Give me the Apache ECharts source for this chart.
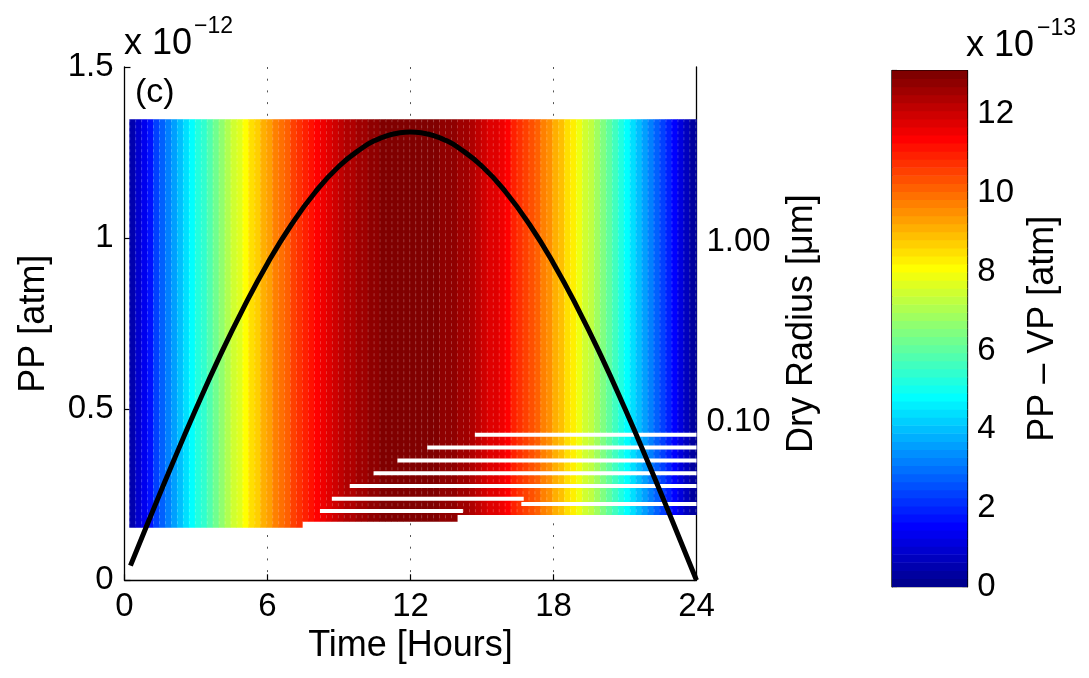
<!DOCTYPE html>
<html><head><meta charset="utf-8">
<script src="https://cdn.jsdelivr.net/npm/echarts@6/dist/echarts.min.js"></script>
<style>html,body{margin:0;padding:0;background:#fff}#c{width:1089px;height:678px}</style>
</head><body><div id="c"></div><script>
// ---------------- data ----------------
const timeTicks = [0, 6, 12, 18, 24];
// Black curve: PP (x 1e-12 atm) vs time (hours)
const ppTimes  = [0.25, 1, 2, 3, 4, 5, 6, 7, 8, 9, 10, 10.5, 11, 11.5, 12, 12.5, 13, 13.5, 14, 15, 16, 17, 18, 19, 20, 21, 22, 23, 24];
const ppValues = [0.043, 0.171, 0.339, 0.501, 0.655, 0.797, 0.926, 1.039, 1.134, 1.210, 1.265, 1.285, 1.299, 1.307, 1.310,
                  1.307, 1.299, 1.285, 1.265, 1.210, 1.134, 1.039, 0.926, 0.797, 0.655, 0.501, 0.339, 0.171, 0.0];
// Heat map: one column per 0.25 h starting at 0.2 h; PP - VP (x 1e-13 atm)
const cellStartTime = 0.2;
const cellStep = 0.25;
const cellValues = [
  0.56, 0.99, 1.41, 1.84, 2.26, 2.68, 3.10, 3.52, 3.93, 4.33, 4.74, 5.13, 5.52, 5.91, 6.29, 6.66,
  7.03, 7.38, 7.73, 8.08, 8.41, 8.73, 9.05, 9.35, 9.65, 9.94, 10.21, 10.47, 10.73, 10.96, 11.19, 11.41,
  11.61, 11.81, 11.99, 12.15, 12.30, 12.45, 12.57, 12.69, 12.79, 12.87, 12.95, 13.00, 13.05, 13.08, 13.10, 13.10,
  13.09, 13.06, 13.02, 12.97, 12.90, 12.82, 12.73, 12.62, 12.50, 12.36, 12.21, 12.05, 11.88, 11.69, 11.49, 11.28,
  11.05, 10.82, 10.57, 10.31, 10.04, 9.77, 9.48, 9.17, 8.86, 8.54, 8.21, 7.87, 7.53, 7.17, 6.81, 6.44,
  6.06, 5.68, 5.29, 4.90, 4.49, 4.09, 3.68, 3.27, 2.85, 2.43, 2.01, 1.58, 1.16, 0.73, 0.30, 0.04
];
const timeEnd = 24;
// Dry radius extent of the heat map (um)
const radiusTop = 4.83;
const floorTimes = [0.2, 7.45, 13.95];
const floorRadii = [0.0256, 0.02765, 0.0301];
// White (missing-data) rows: start time, end time, radius (um)
const whiteStart  = [14.7, 12.7, 11.45, 10.45, 9.45, 8.7, 16.65, 8.2];
const whiteEnd    = [24, 24, 24, 24, 24, 16.75, 24, 14.2];
const whiteRadius = [0.0844, 0.0715, 0.0605, 0.0514, 0.0437, 0.0371, 0.0347, 0.0317];
// Axes
const ppMin = 0, ppMax = 1.5, ppStep = 0.5;
const radiusMin = 0.01303, radiusMax = 9.44;
const radiusTicks = [0.1, 1];
const colorMax = 13.11;
const colorTicks = [0, 2, 4, 6, 8, 10, 12];
const colorLevels = 64;

// ---------------- helpers ----------------
const FONT = '"Liberation Sans", Arial, Helvetica, sans-serif';
function clamp01(a) { return Math.max(0, Math.min(1, a)); }
function jet(idx) { // MATLAB jet(64), idx = 1..64
  const x = idx / colorLevels;
  const r = clamp01(Math.min(4 * x - 1.5, -4 * x + 4.5));
  const g = clamp01(Math.min(4 * x - 0.5, -4 * x + 3.5));
  const b = clamp01(Math.min(4 * x + 0.5, -4 * x + 2.5));
  return 'rgb(' + Math.round(r * 255) + ',' + Math.round(g * 255) + ',' + Math.round(b * 255) + ')';
}
function levelOf(v) {
  return Math.min(colorLevels, Math.max(1, Math.floor(v / colorMax * colorLevels) + 1));
}
function floorAt(t) {
  let r = floorRadii[0];
  for (let j = 0; j < floorTimes.length; j++) if (t >= floorTimes[j] - 1e-9) r = floorRadii[j];
  return r;
}

// heat map cells
const cellData = cellValues.map((v, i) => {
  const t0 = cellStartTime + i * cellStep;
  const t1 = Math.min(timeEnd, t0 + cellStep);
  return [t0, t1, floorAt(t0), v];
});
const whiteData = whiteStart.map((s, i) => [s, whiteEnd[i], whiteRadius[i]]);
const lineData = ppTimes.map((t, i) => [t, ppValues[i]]);
const colorbarData = [];
for (let i = 1; i <= colorLevels; i++) {
  colorbarData.push([(i - 1) * colorMax / colorLevels, i * colorMax / colorLevels, i]);
}

const axisLineStyle = { color: '#000', width: 1.3 };
const tickStyle = { color: '#000', width: 1.2 };
const labelStyle = { color: '#000', fontSize: 33, fontFamily: FONT };
const nameStyle = { color: '#000', fontSize: 36, fontFamily: FONT };

const option = {
  animation: false,
  backgroundColor: '#fff',
  grid: [
    { left: 124.5, top: 67, width: 572, height: 513.3, containLabel: false },
    { left: 892, top: 70.7, width: 75.3, height: 516, containLabel: false,
      show: true, borderColor: '#000', borderWidth: 1.3, backgroundColor: 'transparent' }
  ],
  xAxis: [
    { gridIndex: 0, type: 'value', min: timeTicks[0], max: timeTicks[timeTicks.length - 1], interval: 6,
      axisLine: { show: true, onZero: false, lineStyle: axisLineStyle },
      axisTick: { show: true, inside: true, length: 6, lineStyle: tickStyle },
      axisLabel: Object.assign({ margin: 10 }, labelStyle),
      splitLine: { show: true, lineStyle: { color: '#555', width: 1, type: [2, 9.7] } },
      name: 'Time [Hours]', nameLocation: 'middle', nameGap: 46, nameTextStyle: nameStyle },
    { gridIndex: 1, type: 'value', min: 0, max: 1, show: false }
  ],
  yAxis: [
    { gridIndex: 0, type: 'value', position: 'left', min: ppMin, max: ppMax, interval: ppStep,
      axisLine: { show: true, onZero: false, lineStyle: axisLineStyle },
      axisTick: { show: true, inside: true, length: 6, lineStyle: tickStyle },
      axisLabel: Object.assign({ margin: 11 }, labelStyle),
      splitLine: { show: false },
      name: 'PP [atm]', nameLocation: 'middle', nameRotate: 90, nameGap: 72, nameTextStyle: nameStyle },
    { gridIndex: 0, type: 'log', logBase: 10, position: 'right', min: radiusMin, max: radiusMax,
      axisLine: { show: true, onZero: false, lineStyle: axisLineStyle },
      axisTick: { show: true, inside: true, length: 6, lineStyle: tickStyle, customValues: radiusTicks },
      axisLabel: Object.assign({ margin: 10, customValues: radiusTicks,
        formatter: v => Number(v).toFixed(2) }, labelStyle),
      splitLine: { show: false },
      name: 'Dry Radius [\u03bcm]', nameLocation: 'middle', nameRotate: 90, nameGap: 88, nameTextStyle: nameStyle },
    { gridIndex: 1, type: 'value', position: 'right', min: 0, max: colorMax, interval: 2,
      axisLine: { show: true, onZero: false, lineStyle: axisLineStyle },
      axisTick: { show: true, inside: true, length: 5, lineStyle: tickStyle },
      axisLabel: Object.assign({ margin: 10, showMaxLabel: false,
        formatter: v => (colorTicks.indexOf(v) >= 0 ? String(v) : '') }, labelStyle),
      splitLine: { show: false },
      name: 'PP \u2013 VP [atm]', nameLocation: 'middle', nameRotate: 90, nameGap: 58, nameTextStyle: nameStyle },
    { gridIndex: 1, type: 'value', position: 'left', min: 0, max: colorMax, interval: 2,
      axisLine: { show: true, onZero: false, lineStyle: axisLineStyle },
      axisTick: { show: true, inside: true, length: 5, lineStyle: tickStyle },
      axisLabel: { show: false }, splitLine: { show: false } }
  ],
  series: [
    { type: 'custom', name: 'heat', xAxisIndex: 0, yAxisIndex: 1, clip: true, z: 2,
      encode: { x: [0, 1], y: 2 },
      data: cellData,
      renderItem: function (params, api) {
        const t0 = api.value(0), t1 = api.value(1), rb = api.value(2), v = api.value(3);
        const p0 = api.coord([t0, radiusTop]);
        const p1 = api.coord([t1, rb]);
        const col = jet(levelOf(v));
        return { type: 'group', children: [
          { type: 'rect', shape: { x: p0[0], y: p0[1], width: p1[0] - p0[0] + 0.6, height: p1[1] - p0[1] },
            style: { fill: col, stroke: null } },
          { type: 'line', shape: { x1: p0[0] + 0.5, y1: p0[1], x2: p0[0] + 0.5, y2: p1[1] },
            style: { stroke: 'rgba(255,255,255,0.28)', lineWidth: 0.8, lineDash: [3, 3] } }
        ] };
      } },
    { type: 'custom', name: 'gaps', xAxisIndex: 0, yAxisIndex: 1, clip: true, z: 3,
      encode: { x: [0, 1], y: 2 },
      data: whiteData,
      renderItem: function (params, api) {
        const a = api.coord([api.value(0), api.value(2)]);
        const b = api.coord([api.value(1), api.value(2)]);
        return { type: 'line', shape: { x1: a[0], y1: a[1], x2: b[0], y2: b[1] },
          style: { stroke: '#fff', lineWidth: 4, lineCap: 'butt' } };
      } },
    { type: 'line', name: 'PP', xAxisIndex: 0, yAxisIndex: 0, data: lineData, smooth: true,
      symbol: 'none', z: 5, clip: false,
      lineStyle: { color: '#000', width: 5, cap: 'butt' } },
    { type: 'custom', name: 'colorbar', xAxisIndex: 1, yAxisIndex: 2, z: 2,
      encode: { y: [0, 1] },
      data: colorbarData,
      renderItem: function (params, api) {
        const lo = api.value(0), hi = api.value(1), idx = api.value(2);
        const a = api.coord([0, hi]);
        const b = api.coord([1, lo]);
        return { type: 'rect', shape: { x: a[0], y: a[1] - 0.3, width: b[0] - a[0], height: b[1] - a[1] + 0.6 },
          style: { fill: jet(idx), stroke: null } };
      } }
  ],
  graphic: [
    { type: 'text', left: 124, top: 26, style: { text: 'x 10', font: '36px ' + FONT, fill: '#000' } },
    { type: 'text', left: 194, top: 15, style: { text: '\u221212', font: '23px ' + FONT, fill: '#000' } },
    { type: 'text', left: 135, top: 76, style: { text: '(c)', font: '34px ' + FONT, fill: '#000' } },
    { type: 'text', left: 966, top: 28, style: { text: 'x 10', font: '36px ' + FONT, fill: '#000' } },
    { type: 'text', left: 1037, top: 17, style: { text: '\u221213', font: '23px ' + FONT, fill: '#000' } }
  ]
};

const chart = echarts.init(document.getElementById('c'), null, { renderer: 'canvas' });
chart.setOption(option);
</script></body></html>
